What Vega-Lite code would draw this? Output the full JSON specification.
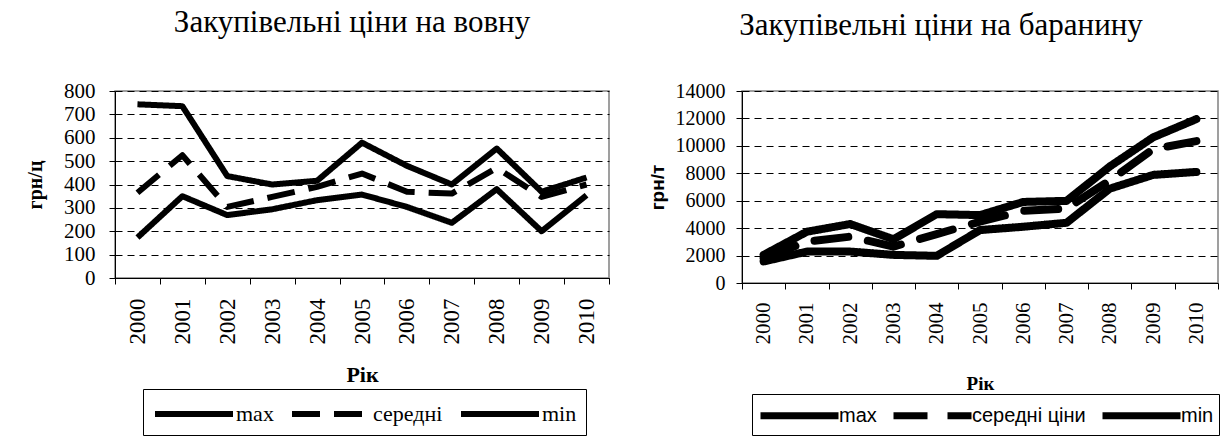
{
  "$schema": "https://vega.github.io/schema/vega-lite/v6.json",
  "background": "white",
  "padding": {"left": 24, "top": 6, "right": 0, "bottom": 0},
  "spacing": 36,
  "config": {
    "view": {"stroke": "#808080", "strokeWidth": 1.5},
    "axis": {"domainColor": "black", "tickColor": "black", "labelColor": "black", "titleColor": "black", "tickSize": 6, "domainWidth": 1},
    "legend": {"orient": "none", "direction": "horizontal", "symbolType": "M-1,0H5", "symbolSize": 676, "symbolStrokeColor": "black", "strokeColor": "black", "labelColor": "black", "labelLimit": 300, "columnPadding": 6, "title": null}
  },
  "resolve": {"scale": {"strokeDash": "independent"}, "legend": {"strokeDash": "independent"}},
  "hconcat": [
    {
      "width": 494,
      "height": 187,
      "title": {"text": "Закупівельні ціни на вовну", "font": "Liberation Serif", "fontSize": 31, "fontWeight": "normal", "color": "black", "offset": 41, "dx": -10},
      "data": {"values": [
        {"year": "2000", "series": "max", "value": 743},
        {"year": "2001", "series": "max", "value": 735},
        {"year": "2002", "series": "max", "value": 436},
        {"year": "2003", "series": "max", "value": 400},
        {"year": "2004", "series": "max", "value": 416},
        {"year": "2005", "series": "max", "value": 579},
        {"year": "2006", "series": "max", "value": 480},
        {"year": "2007", "series": "max", "value": 400},
        {"year": "2008", "series": "max", "value": 554},
        {"year": "2009", "series": "max", "value": 369},
        {"year": "2010", "series": "max", "value": 430},
        {"year": "2000", "series": "середні", "value": 365},
        {"year": "2001", "series": "середні", "value": 525},
        {"year": "2002", "series": "середні", "value": 304},
        {"year": "2003", "series": "середні", "value": 347},
        {"year": "2004", "series": "середні", "value": 390},
        {"year": "2005", "series": "середні", "value": 447},
        {"year": "2006", "series": "середні", "value": 369},
        {"year": "2007", "series": "середні", "value": 361},
        {"year": "2008", "series": "середні", "value": 471},
        {"year": "2009", "series": "середні", "value": 347},
        {"year": "2010", "series": "середні", "value": 400},
        {"year": "2000", "series": "min", "value": 173},
        {"year": "2001", "series": "min", "value": 350},
        {"year": "2002", "series": "min", "value": 269},
        {"year": "2003", "series": "min", "value": 294},
        {"year": "2004", "series": "min", "value": 333},
        {"year": "2005", "series": "min", "value": 357},
        {"year": "2006", "series": "min", "value": 304},
        {"year": "2007", "series": "min", "value": 236},
        {"year": "2008", "series": "min", "value": 380},
        {"year": "2009", "series": "min", "value": 200},
        {"year": "2010", "series": "min", "value": 354}
      ]},
      "mark": {"type": "line", "color": "black", "strokeWidth": 6, "strokeCap": "butt", "strokeJoin": "round"},
      "encoding": {
        "x": {"field": "year", "type": "ordinal", "scale": {"type": "band", "paddingInner": 0, "paddingOuter": 0},
          "axis": {"title": "Рік", "titleFont": "Liberation Serif", "titleFontSize": 22, "titleFontWeight": "bold", "titlePadding": 20,
            "labelAngle": 270, "labelFont": "Liberation Serif", "labelFontSize": 23, "labelPadding": 14, "tickBand": "extent", "grid": false}},
        "y": {"field": "value", "type": "quantitative", "scale": {"domain": [0, 800], "nice": false},
          "axis": {"values": [0, 100, 200, 300, 400, 500, 600, 700, 800], "title": "грн/ц", "titleFont": "Liberation Serif", "titleFontSize": 20, "titleFontWeight": "bold", "titlePadding": 18,
            "labelFont": "Liberation Serif", "labelFontSize": 21, "labelPadding": 14, "grid": true, "gridColor": "black", "gridDash": [7, 5], "gridWidth": 1}},
        "strokeDash": {"field": "series", "type": "nominal",
          "scale": {"domain": ["max", "середні", "min"], "range": [[1, 0], [28, 14], [1, 0]]},
          "legend": {"legendX": 28, "legendY": 298, "padding": 9, "symbolStrokeWidth": 6, "labelOffset": 52, "labelFont": "Liberation Serif", "labelFontSize": 22}}
      }
    },
    {
      "width": 476,
      "height": 192,
      "title": {"text": "Закупівельні ціни на баранину", "font": "Liberation Serif", "fontSize": 31, "fontWeight": "normal", "color": "black", "offset": 39, "dx": -39},
      "data": {"values": [
        {"year": "2000", "series": "max", "value": 2050},
        {"year": "2001", "series": "max", "value": 3740},
        {"year": "2002", "series": "max", "value": 4300},
        {"year": "2003", "series": "max", "value": 3190},
        {"year": "2004", "series": "max", "value": 5020},
        {"year": "2005", "series": "max", "value": 4950},
        {"year": "2006", "series": "max", "value": 5910},
        {"year": "2007", "series": "max", "value": 5990},
        {"year": "2008", "series": "max", "value": 8500},
        {"year": "2009", "series": "max", "value": 10620},
        {"year": "2010", "series": "max", "value": 11950},
        {"year": "2000", "series": "середні ціни", "value": 1810},
        {"year": "2001", "series": "середні ціни", "value": 3020},
        {"year": "2002", "series": "середні ціни", "value": 3380},
        {"year": "2003", "series": "середні ціни", "value": 2650},
        {"year": "2004", "series": "середні ціни", "value": 3570},
        {"year": "2005", "series": "середні ціни", "value": 4470},
        {"year": "2006", "series": "середні ціни", "value": 5260},
        {"year": "2007", "series": "середні ціни", "value": 5430},
        {"year": "2008", "series": "середні ціни", "value": 7480},
        {"year": "2009", "series": "середні ціни", "value": 9760},
        {"year": "2010", "series": "середні ціни", "value": 10350},
        {"year": "2000", "series": "min", "value": 1570},
        {"year": "2001", "series": "min", "value": 2290},
        {"year": "2002", "series": "min", "value": 2290},
        {"year": "2003", "series": "min", "value": 2050},
        {"year": "2004", "series": "min", "value": 1980},
        {"year": "2005", "series": "min", "value": 3860},
        {"year": "2006", "series": "min", "value": 4100},
        {"year": "2007", "series": "min", "value": 4390},
        {"year": "2008", "series": "min", "value": 6880},
        {"year": "2009", "series": "min", "value": 7880},
        {"year": "2010", "series": "min", "value": 8100}
      ]},
      "mark": {"type": "line", "color": "black", "strokeWidth": 8, "strokeCap": "round", "strokeJoin": "round"},
      "encoding": {
        "x": {"field": "year", "type": "ordinal", "scale": {"type": "band", "paddingInner": 0, "paddingOuter": 0},
          "axis": {"title": "Рік", "titleFont": "Liberation Serif", "titleFontSize": 19, "titleFontWeight": "bold", "titlePadding": 30,
            "labelAngle": 270, "labelFont": "Liberation Serif", "labelFontSize": 21, "labelPadding": 13, "tickBand": "extent", "grid": false}},
        "y": {"field": "value", "type": "quantitative", "scale": {"domain": [0, 14000], "nice": false},
          "axis": {"values": [0, 2000, 4000, 6000, 8000, 10000, 12000, 14000], "format": "d", "title": "грн/т", "titleFont": "Liberation Sans", "titleFontSize": 19, "titleFontWeight": "bold", "titlePadding": 8,
            "labelFont": "Liberation Serif", "labelFontSize": 20, "labelPadding": 11, "grid": true, "gridColor": "black", "gridDash": [7, 5], "gridWidth": 1}},
        "strokeDash": {"field": "series", "type": "nominal",
          "scale": {"domain": ["max", "середні ціни", "min"], "range": [[1, 0], [34, 20], [1, 0]]},
          "legend": {"legendX": 10, "legendY": 303, "padding": 5, "columnPadding": 2, "symbolStrokeWidth": 7, "labelOffset": 49, "labelFont": "Liberation Sans", "labelFontSize": 20}}
      }
    }
  ]
}
